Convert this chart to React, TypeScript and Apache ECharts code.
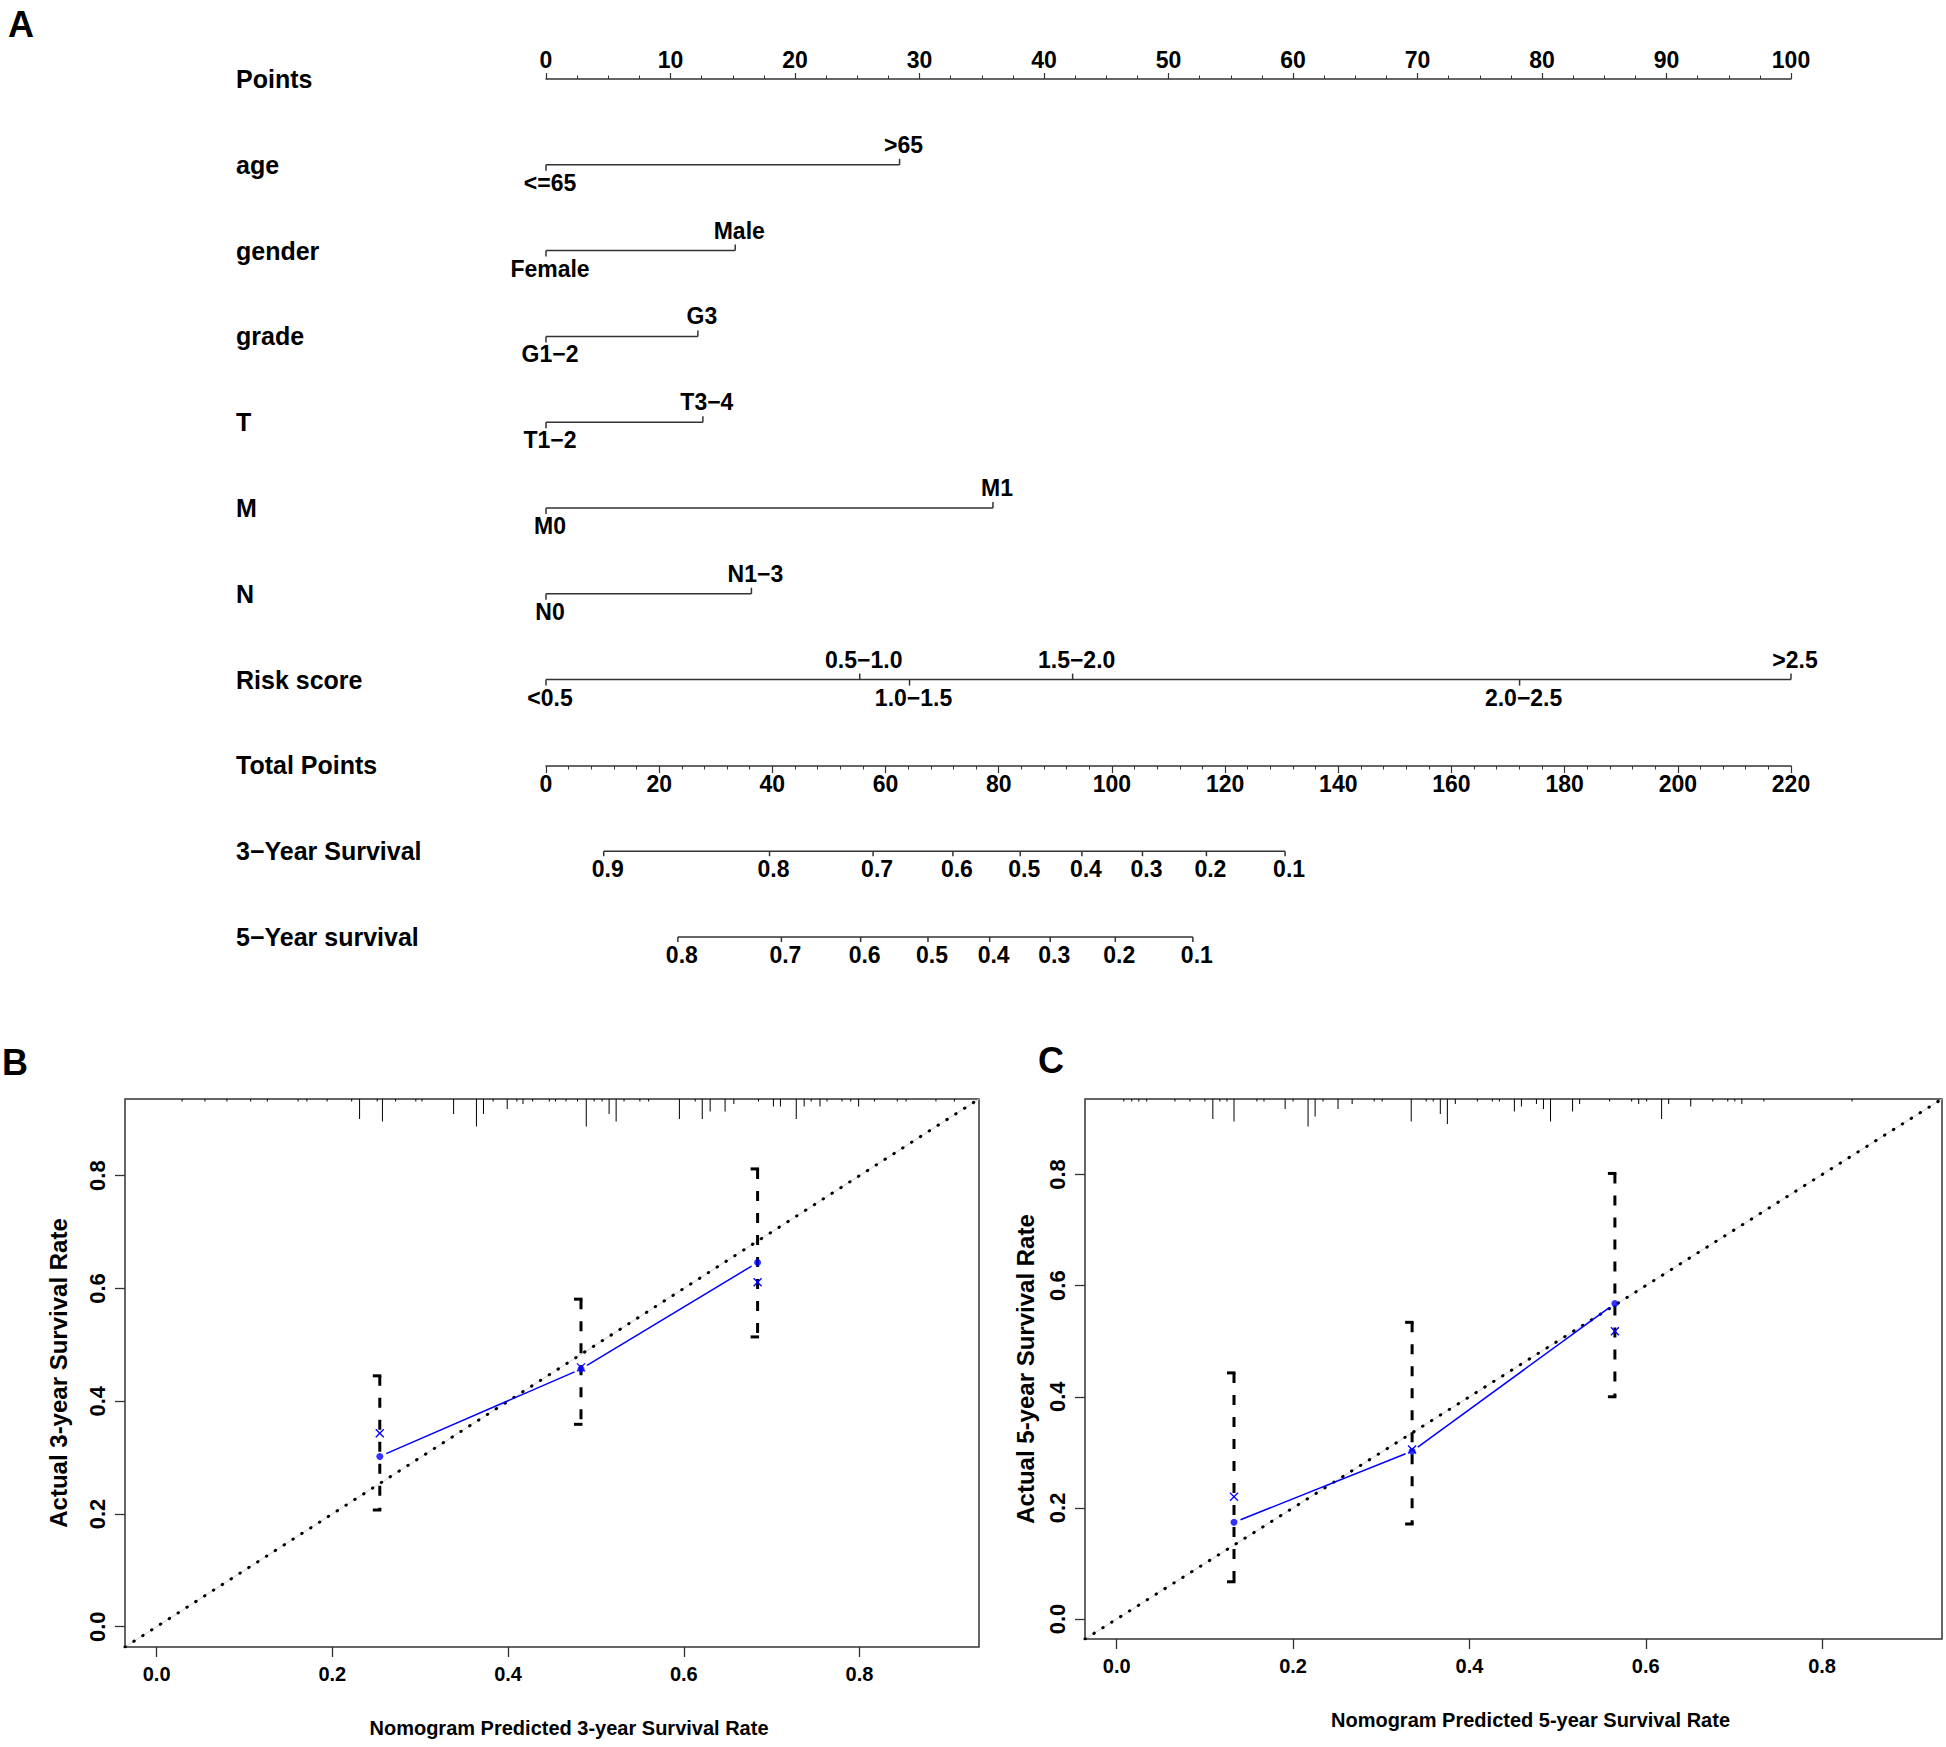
import React, { useEffect, useRef } from "react";
import * as echarts from "echarts";

const W = 1946;
const H = 1747;

// ---------------- Nomogram (panel A) ----------------
const rowNames = [
  "Points", "age", "gender", "grade", "T", "M", "N",
  "Risk score", "Total Points", "3−Year Survival", "5−Year survival",
];
const ageLabels = ["<=65", ">65"];
const agePoints = [0, 28.4];
const genderLabels = ["Female", "Male"];
const genderPoints = [0, 15.2];
const gradeLabels = ["G1−2", "G3"];
const gradePoints = [0, 12.2];
const tLabels = ["T1−2", "T3−4"];
const tPoints = [0, 12.6];
const mLabels = ["M0", "M1"];
const mPoints = [0, 35.9];
const nLabels = ["N0", "N1−3"];
const nPoints = [0, 16.5];
const riskLabels = ["<0.5", "0.5−1.0", "1.0−1.5", "1.5−2.0", "2.0−2.5", ">2.5"];
const riskPoints = [0, 25.2, 29.2, 42.3, 78.2, 100];
const riskSides = ["down", "up", "down", "up", "down", "up"];
const surv3Labels = ["0.9", "0.8", "0.7", "0.6", "0.5", "0.4", "0.3", "0.2", "0.1"];
const surv3Total = [10.2, 39.5, 57.8, 71.9, 83.8, 94.7, 105.4, 116.7, 130.6];
const surv5Labels = ["0.8", "0.7", "0.6", "0.5", "0.4", "0.3", "0.2", "0.1"];
const surv5Total = [23.3, 41.6, 55.6, 67.5, 78.4, 89.1, 100.6, 114.3];

// ---------------- Calibration panels (B, C) ----------------
const axisLo = -0.036;
const axisHi = 0.936;
const tickLo = 0;
const tickHi = 0.8;
const tickStep = 0.2;

const bPred = [0.254, 0.483, 0.684];
const bObs = [0.302, 0.457, 0.646];
const bCorr = [0.343, 0.46, 0.611];
const bLow = [0.207, 0.359, 0.514];
const bHigh = [0.445, 0.581, 0.812];
const bRugX = [
  0.029, 0.055, 0.08, 0.107, 0.126, 0.161, 0.171, 0.194, 0.222, 0.231, 0.251, 0.257,
  0.272, 0.295, 0.302, 0.338, 0.364, 0.372, 0.383, 0.399, 0.41, 0.417, 0.428, 0.447,
  0.454, 0.466, 0.479, 0.489, 0.498, 0.507, 0.515, 0.523, 0.532, 0.55, 0.56, 0.595,
  0.613, 0.621, 0.63, 0.647, 0.657, 0.685, 0.702, 0.71, 0.728, 0.737, 0.745, 0.755,
  0.763, 0.78, 0.79, 0.799, 0.817, 0.843, 0.853, 0.887, 0.908,
];
const bRugN = [
  1, 1, 1, 1, 1, 1, 1, 1, 1, 8, 1, 9,
  1, 1, 1, 6, 11, 6, 1, 4, 1, 2, 1, 1,
  1, 1, 1, 11, 1, 1, 6, 9, 1, 1, 1, 8,
  1, 8, 5, 5, 2, 1, 3, 3, 8, 3, 1, 3,
  1, 1, 1, 3, 1, 1, 1, 1, 1,
];

const cPred = [0.133, 0.335, 0.565];
const cObs = [0.174, 0.302, 0.568];
const cCorr = [0.22, 0.305, 0.518];
const cLow = [0.067, 0.171, 0.4];
const cHigh = [0.443, 0.534, 0.802];
const cRugX = [
  0.008, 0.017, 0.025, 0.034, 0.066, 0.083, 0.1, 0.109, 0.117, 0.125, 0.133, 0.159,
  0.167, 0.191, 0.2, 0.217, 0.225, 0.234, 0.251, 0.267, 0.292, 0.301, 0.334, 0.351,
  0.359, 0.367, 0.375, 0.384, 0.409, 0.426, 0.434, 0.451, 0.459, 0.476, 0.484, 0.492,
  0.517, 0.525, 0.559, 0.584, 0.592, 0.601, 0.618, 0.626, 0.651, 0.676, 0.693, 0.701,
  0.709, 0.734, 0.834,
];
const cRugN = [
  1, 1, 1, 1, 1, 1, 1, 8, 1, 1, 9, 1,
  1, 4, 1, 11, 7, 1, 4, 2, 1, 1, 9, 1,
  1, 6, 10, 2, 1, 1, 1, 5, 3, 2, 4, 9,
  5, 2, 1, 1, 2, 1, 8, 2, 3, 1, 1, 1,
  2, 1, 1,
];

// ---------------- layout / styles ----------------
const PB = { left: 125, top: 1099, width: 854, height: 548 };
const PC = { left: 1085, top: 1099, width: 857, height: 540 };

const SANS = "'Liberation Sans', Arial, Helvetica, sans-serif";
const LINE = "#333";
const BLUE = "#0000ff";

const nomoFont = { fontFamily: SANS, fontWeight: "bold" as const, fontSize: 23, fill: "#000" };

function rowSeries(row: number, values: number[], labels: string[], sides: string[], xAxisIndex: number, tickLen: number) {
  const lo = Math.min(...values);
  const hi = Math.max(...values);
  return {
    type: "custom",
    xAxisIndex,
    yAxisIndex: 0,
    silent: true,
    clip: false,
    data: values.map((v, i) => [v, row, i]),
    renderItem: (params: any, api: any) => {
      const i = params.dataIndex;
      const p = api.coord([api.value(0), api.value(1)]);
      const dir = sides[i] === "up" ? -1 : 1;
      const children: any[] = [
        {
          type: "line",
          shape: { x1: p[0], y1: p[1], x2: p[0], y2: p[1] + dir * tickLen },
          style: { stroke: LINE, lineWidth: 1.5 },
        },
        {
          type: "text",
          x: p[0] + 4,
          y: p[1] + (dir < 0 ? -20 : 18),
          style: { text: labels[i], ...nomoFont, align: "center", verticalAlign: "middle" },
        },
      ];
      if (i === 0) {
        const a = api.coord([lo, row]);
        const b = api.coord([hi, row]);
        children.push({
          type: "line",
          shape: { x1: a[0], y1: a[1], x2: b[0], y2: b[1] },
          style: { stroke: LINE, lineWidth: 1.5 },
        });
      }
      return { type: "group", children };
    },
  };
}

function calSeries(
  xi: number, yi: number,
  pred: number[], obs: number[], corr: number[], low: number[], high: number[],
  rugX: number[], rugN: number[],
) {
  const diag = [[axisLo, axisLo], [axisHi, axisHi]];
  return [
    {
      type: "line", xAxisIndex: xi, yAxisIndex: yi, data: diag, showSymbol: false, silent: true,
      lineStyle: { color: "#d4d4d4", width: 1 }, z: 1,
    },
    {
      type: "line", xAxisIndex: xi, yAxisIndex: yi, data: diag, showSymbol: false, silent: true,
      lineStyle: { color: "#000", width: 3, type: [0.5, 10], cap: "round" }, z: 2,
    },
    {
      type: "custom", xAxisIndex: xi, yAxisIndex: yi, silent: true, z: 3,
      data: rugX.map((x, i) => [x, rugN[i]]),
      renderItem: (params: any, api: any) => {
        const p = api.coord([api.value(0), 0]);
        const top = params.coordSys.y;
        return {
          type: "line",
          shape: { x1: p[0], y1: top, x2: p[0], y2: top + api.value(1) * 2.5 },
          style: { stroke: "#000", lineWidth: 1 },
        };
      },
    },
    {
      type: "custom", xAxisIndex: xi, yAxisIndex: yi, silent: true, z: 4,
      data: pred.map((p, i) => [p, low[i], high[i]]),
      renderItem: (params: any, api: any) => {
        const a = api.coord([api.value(0), api.value(2)]);
        const b = api.coord([api.value(0), api.value(1)]);
        const st = { stroke: "#000", lineWidth: 3 };
        return {
          type: "group",
          children: [
            { type: "line", shape: { x1: a[0], y1: a[1], x2: b[0], y2: b[1] }, style: { ...st, lineDash: [10, 12] } },
            { type: "line", shape: { x1: a[0] - 7, y1: a[1], x2: a[0] + 1.5, y2: a[1] }, style: st },
            { type: "line", shape: { x1: b[0] - 7, y1: b[1], x2: b[0] + 1.5, y2: b[1] }, style: st },
          ],
        };
      },
    },
    {
      type: "custom", xAxisIndex: xi, yAxisIndex: yi, silent: true, z: 5,
      data: pred.map((p, i) => [p, obs[i]]),
      renderItem: (params: any, api: any) => {
        const i = params.dataIndex;
        if (i >= pred.length - 1) return { type: "group", children: [] };
        const a = api.coord([pred[i], obs[i]]);
        const b = api.coord([pred[i + 1], obs[i + 1]]);
        const dx = b[0] - a[0];
        const dy = b[1] - a[1];
        const L = Math.hypot(dx, dy);
        const g = 7;
        return {
          type: "line",
          shape: { x1: a[0] + (dx * g) / L, y1: a[1] + (dy * g) / L, x2: b[0] - (dx * g) / L, y2: b[1] - (dy * g) / L },
          style: { stroke: BLUE, lineWidth: 1.5 },
        };
      },
    },
    {
      type: "scatter", xAxisIndex: xi, yAxisIndex: yi, silent: true, z: 6,
      data: pred.map((p, i) => [p, obs[i]]),
      symbol: "circle", symbolSize: 7, itemStyle: { color: BLUE },
    },
    {
      type: "custom", xAxisIndex: xi, yAxisIndex: yi, silent: true, z: 7,
      data: pred.map((p, i) => [p, corr[i]]),
      renderItem: (params: any, api: any) => {
        const p = api.coord([api.value(0), api.value(1)]);
        const r = 4;
        const st = { stroke: BLUE, lineWidth: 1.3 };
        return {
          type: "group",
          children: [
            { type: "line", shape: { x1: p[0] - r, y1: p[1] - r, x2: p[0] + r, y2: p[1] + r }, style: st },
            { type: "line", shape: { x1: p[0] - r, y1: p[1] + r, x2: p[0] + r, y2: p[1] - r }, style: st },
          ],
        };
      },
    },
  ];
}

// main (data) axes of a calibration panel: full range, only the axis title
function calXAxis(gridIndex: number, name: string) {
  return {
    type: "value", gridIndex, min: axisLo, max: axisHi, position: "bottom",
    axisLine: { show: false, onZero: false },
    splitLine: { show: false }, axisTick: { show: false }, axisLabel: { show: false },
    name, nameLocation: "middle", nameGap: 71,
    nameTextStyle: { fontFamily: SANS, fontWeight: "bold", fontSize: 20, color: "#000", padding: [0, 0, 0, 34] },
  };
}
function calYAxis(gridIndex: number, name: string, gap: number) {
  return {
    type: "value", gridIndex, min: axisLo, max: axisHi, position: "left",
    axisLine: { show: false, onZero: false },
    splitLine: { show: false }, axisTick: { show: false }, axisLabel: { show: false },
    name, nameLocation: "middle", nameGap: gap, nameRotate: 90,
    nameTextStyle: { fontFamily: SANS, fontWeight: "bold", fontSize: 24, color: "#000" },
  };
}

// tick grid covering [tickLo, tickHi] inside a panel, derived from the panel scale
function tickGrid(P: { left: number; top: number; width: number; height: number }) {
  const r = axisHi - axisLo;
  const sx = P.width / r;
  const sy = P.height / r;
  return {
    grid: {
      left: P.left + (tickLo - axisLo) * sx,
      width: (tickHi - tickLo) * sx,
      top: P.top + (axisHi - tickHi) * sy,
      height: (tickHi - tickLo) * sy,
    },
    xOffset: (tickLo - axisLo) * sy,
    yOffset: (tickLo - axisLo) * sx,
  };
}

function tickXAxis(gridIndex: number, offset: number) {
  return {
    type: "value", gridIndex, min: tickLo, max: tickHi, interval: tickStep, position: "bottom", offset,
    axisLine: { show: false, onZero: false },
    splitLine: { show: false },
    axisTick: { show: true, length: 10, lineStyle: { color: LINE, width: 1.3 } },
    axisLabel: {
      show: true, margin: 17, formatter: (v: number) => v.toFixed(1),
      fontFamily: SANS, fontWeight: "bold", fontSize: 20, color: "#000",
    },
  };
}
function tickYAxis(gridIndex: number, offset: number) {
  return {
    type: "value", gridIndex, min: tickLo, max: tickHi, interval: tickStep, position: "left", offset,
    axisLine: { show: false, onZero: false },
    splitLine: { show: false },
    axisTick: { show: true, length: 10, lineStyle: { color: LINE, width: 1.3 } },
    axisLabel: {
      show: true, margin: 17, rotate: 90, formatter: (v: number) => v.toFixed(1),
      fontFamily: SANS, fontWeight: "bold", fontSize: 22, color: "#000",
    },
  };
}

function buildOption(): any {
  const axisLabelFont = { fontFamily: SANS, fontWeight: "bold", fontSize: 23, color: "#000" };
  const tb = tickGrid(PB);
  const tc = tickGrid(PC);
  return {
    animation: false,
    backgroundColor: "#fff",
    grid: [
      { left: 546, width: 1245, top: 79, height: 858 },
      { left: 546, width: 1245, top: 756, height: 10 },
      { ...PB, show: true, borderColor: LINE, borderWidth: 1.5 },
      { ...PC, show: true, borderColor: LINE, borderWidth: 1.5 },
      tb.grid,
      tc.grid,
    ],
    xAxis: [
      {
        type: "value", gridIndex: 0, position: "top", min: 0, max: 100, interval: 10,
        axisLine: { show: true, onZero: false, lineStyle: { color: LINE, width: 1.5 } },
        axisTick: { show: true, length: 6, lineStyle: { color: LINE, width: 1.2 } },
        minorTick: { show: true, splitNumber: 4, length: 3.5, lineStyle: { color: LINE, width: 1 } },
        axisLabel: { show: true, margin: 8, ...axisLabelFont },
        splitLine: { show: false },
      },
      { type: "value", gridIndex: 0, min: 0, max: 220, show: false },
      {
        type: "value", gridIndex: 1, position: "bottom", min: 0, max: 220, interval: 20,
        axisLine: { show: true, onZero: false, lineStyle: { color: LINE, width: 1.5 } },
        axisTick: { show: true, length: 7, lineStyle: { color: LINE, width: 1.2 } },
        minorTick: { show: true, splitNumber: 5, length: 3.5, lineStyle: { color: LINE, width: 1 } },
        axisLabel: { show: true, margin: 6, ...axisLabelFont },
        splitLine: { show: false },
      },
      calXAxis(2, "Nomogram Predicted 3-year Survival Rate"),
      calXAxis(3, "Nomogram Predicted 5-year Survival Rate"),
      tickXAxis(4, tb.xOffset),
      tickXAxis(5, tc.xOffset),
    ],
    yAxis: [
      {
        type: "value", gridIndex: 0, min: 0, max: 10, interval: 1, inverse: true,
        axisLine: { show: false }, axisTick: { show: false }, splitLine: { show: false },
        axisLabel: {
          show: true, align: "left", margin: 310, padding: [0, 0, 6, 0],
          formatter: (v: number) => rowNames[Math.round(v)] ?? "",
          fontFamily: SANS, fontWeight: "bold", fontSize: 25, color: "#000",
        },
      },
      { type: "value", gridIndex: 1, show: false },
      calYAxis(2, "Actual 3-year Survival Rate", 55),
      calYAxis(3, "Actual 5-year Survival Rate", 48),
      tickYAxis(4, tb.yOffset),
      tickYAxis(5, tc.yOffset),
    ],
    graphic: [
      { type: "text", left: 8, top: 6, style: { text: "A", fontFamily: SANS, fontWeight: "bold", fontSize: 36, fill: "#000" } },
      { type: "text", left: 2, top: 1044, style: { text: "B", fontFamily: SANS, fontWeight: "bold", fontSize: 36, fill: "#000" } },
      { type: "text", left: 1038, top: 1042, style: { text: "C", fontFamily: SANS, fontWeight: "bold", fontSize: 36, fill: "#000" } },
    ],
    series: [
      rowSeries(1, agePoints, ageLabels, ["down", "up"], 0, 6),
      rowSeries(2, genderPoints, genderLabels, ["down", "up"], 0, 6),
      rowSeries(3, gradePoints, gradeLabels, ["down", "up"], 0, 6),
      rowSeries(4, tPoints, tLabels, ["down", "up"], 0, 6),
      rowSeries(5, mPoints, mLabels, ["down", "up"], 0, 6),
      rowSeries(6, nPoints, nLabels, ["down", "up"], 0, 6),
      rowSeries(7, riskPoints, riskLabels, riskSides, 0, 6),
      rowSeries(9, surv3Total, surv3Labels, surv3Labels.map(() => "down"), 1, 5),
      rowSeries(10, surv5Total, surv5Labels, surv5Labels.map(() => "down"), 1, 5),
      ...calSeries(3, 2, bPred, bObs, bCorr, bLow, bHigh, bRugX, bRugN),
      ...calSeries(4, 3, cPred, cObs, cCorr, cLow, cHigh, cRugX, cRugN),
    ],
  };
}

export default function App() {
  const ref = useRef<HTMLDivElement>(null);
  useEffect(() => {
    if (!ref.current) return;
    const chart = echarts.init(ref.current, null, { renderer: "svg" });
    chart.setOption(buildOption());
    return () => chart.dispose();
  }, []);
  return (
    <div
      ref={ref}
      style={{ position: "absolute", left: 0, top: 0, width: W, height: H, background: "#fff" }}
    />
  );
}
